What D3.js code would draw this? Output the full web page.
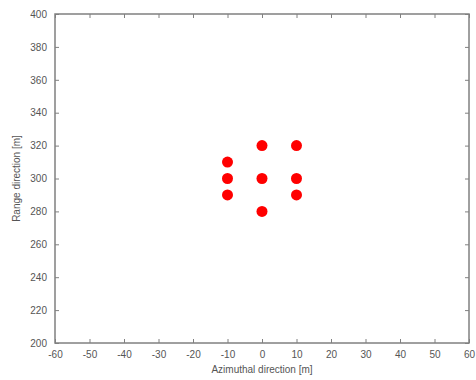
<!DOCTYPE html>
<html>
<head>
<meta charset="utf-8">
<script src="https://cdn.jsdelivr.net/npm/d3@7"></script>
<style>
  body { margin: 0; background: #fff; }
  text { font-family: "Liberation Sans", Arial, sans-serif; }
</style>
</head>
<body>
<div id="chart"></div>
<script>
// point targets (azimuth, range) in metres
const azimuth = [-10, -10, -10, 0, 0, 0, 10, 10, 10];
const range   = [310, 300, 290, 320, 300, 280, 320, 300, 290];

const xTicks = [-60, -50, -40, -30, -20, -10, 0, 10, 20, 30, 40, 50, 60];
const yTicks = [200, 220, 240, 260, 280, 300, 320, 340, 360, 380, 400];

const width = 476, height = 380;
const margin = { top: 14, right: 7, bottom: 37, left: 55 };
const axisColor = '#808080';
const textColor = '#555';

const svg = d3.select('#chart').append('svg')
    .attr('width', width)
    .attr('height', height);

const x = d3.scaleLinear()
    .domain([-60, 60])
    .range([margin.left, width - margin.right]);

const y = d3.scaleLinear()
    .domain([200, 400])
    .range([height - margin.bottom, margin.top]);

// matlab style box with inward ticks on every side
function styleAxis(g) {
    g.select('.domain').remove();
    g.selectAll('line').attr('stroke', axisColor);
    g.selectAll('text').attr('fill', textColor).attr('font-size', 10);
}

// plain hyphen for negatives, like the original
const plain = d => String(d);

svg.append('g')
    .attr('transform', `translate(0,${y(200)})`)
    .call(d3.axisBottom(x).tickValues(xTicks).tickSize(-4).tickPadding(8).tickFormat(plain))
    .call(styleAxis);

svg.append('g')
    .attr('transform', `translate(0,${y(400)})`)
    .call(d3.axisTop(x).tickValues(xTicks).tickSize(-4).tickFormat(''))
    .call(styleAxis);

svg.append('g')
    .attr('transform', `translate(${x(-60)},0)`)
    .call(d3.axisLeft(y).tickValues(yTicks).tickSize(-4).tickPadding(8).tickFormat(plain))
    .call(styleAxis);

svg.append('g')
    .attr('transform', `translate(${x(60)},0)`)
    .call(d3.axisRight(y).tickValues(yTicks).tickSize(-4).tickFormat(''))
    .call(styleAxis);

svg.append('rect')
    .attr('x', x(-60))
    .attr('y', y(400))
    .attr('width', x(60) - x(-60))
    .attr('height', y(200) - y(400))
    .attr('fill', 'none')
    .attr('stroke', axisColor)
    .attr('stroke-width', 1.5);

// targets
svg.append('g')
    .selectAll('circle')
    .data(azimuth)
    .join('circle')
    .attr('cx', d => x(d))
    .attr('cy', (d, i) => y(range[i]))
    .attr('r', 5.5)
    .attr('fill', '#ff0000');

svg.append('text')
    .attr('x', (x(-60) + x(60)) / 2)
    .attr('y', height - 7)
    .attr('text-anchor', 'middle')
    .attr('font-size', 10)
    .attr('fill', textColor)
    .text('Azimuthal direction [m]');

svg.append('text')
    .attr('transform', `translate(20,${(y(200) + y(400)) / 2}) rotate(-90)`)
    .attr('text-anchor', 'middle')
    .attr('font-size', 10)
    .attr('fill', textColor)
    .text('Range direction [m]');
</script>
</body>
</html>
